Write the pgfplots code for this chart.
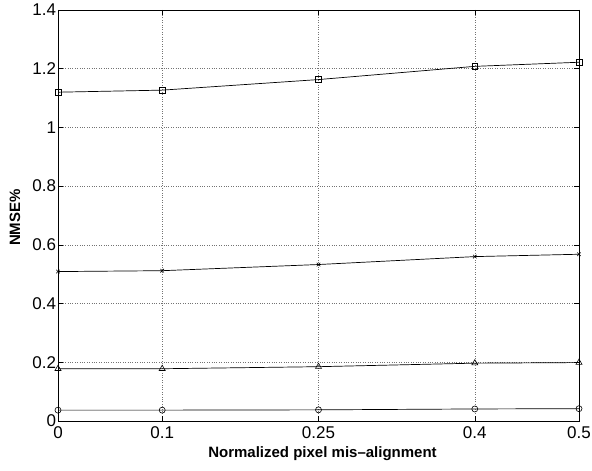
\documentclass[border=0pt]{standalone}
\usepackage{pgfplots}
\pgfplotsset{compat=1.18}
\usepackage{fontspec}
\setmainfont{Liberation Sans}
\begin{document}
\begin{tikzpicture}
\begin{axis}[
  scale only axis,
  width=521pt, height=411pt,
  xmin=0, xmax=0.5, ymin=0, ymax=1.4,
  xtick={0,0.1,0.25,0.4,0.5},
  xticklabels={0,0.1,0.25,0.4,0.5},
  ytick={0,0.2,0.4,0.6,0.8,1,1.2,1.4},
  yticklabels={0,0.2,0.4,0.6,0.8,1,1.2,1.4},
  tick align=inside, tick pos=both,
  major tick length=5pt,
  grid=major,
  major grid style={dotted, black!55, line width=0.6pt},
  axis line style={line width=0.6pt},
  tick style={line width=0.6pt, black},
  tick label style={font=\fontsize{17}{18}\selectfont},
  xticklabel style={yshift=-2pt},
  yticklabel style={xshift=1.5pt},
  xlabel={\textbf{Normalized pixel mis\textendash alignment}},
  ylabel={\textbf{NMSE\%}},
  label style={font=\fontsize{15}{16}\selectfont},
  xlabel style={at={(axis description cs:0.5,0)}, anchor=base, yshift=-36pt, xshift=4pt},
  ylabel style={at={(axis description cs:-0.0825,0.495)}, anchor=center},
  every axis plot/.append style={black, line width=0.7pt, mark size=3pt, mark options={solid, fill=none, line width=0.6pt}},
]
\addplot[mark=square, mark size=2.8pt] coordinates {(0,1.120) (0.1,1.127) (0.25,1.163) (0.4,1.208) (0.5,1.222)};
\addplot[mark=x, mark size=2.5pt] coordinates {(0,0.509) (0.1,0.512) (0.25,0.533) (0.4,0.560) (0.5,0.568)};
\addplot[mark=triangle, mark size=3.5pt] coordinates {(0,0.178) (0.1,0.178) (0.25,0.185) (0.4,0.197) (0.5,0.199)};
\addplot[mark=o] coordinates {(0,0.037) (0.1,0.037) (0.25,0.038) (0.4,0.041) (0.5,0.042)};
\end{axis}
\pgfresetboundingbox
\path (current axis.south west) ++(-58pt,-49pt) rectangle ([shift={(13pt,10pt)}]current axis.north east);
\end{tikzpicture}
\end{document}
